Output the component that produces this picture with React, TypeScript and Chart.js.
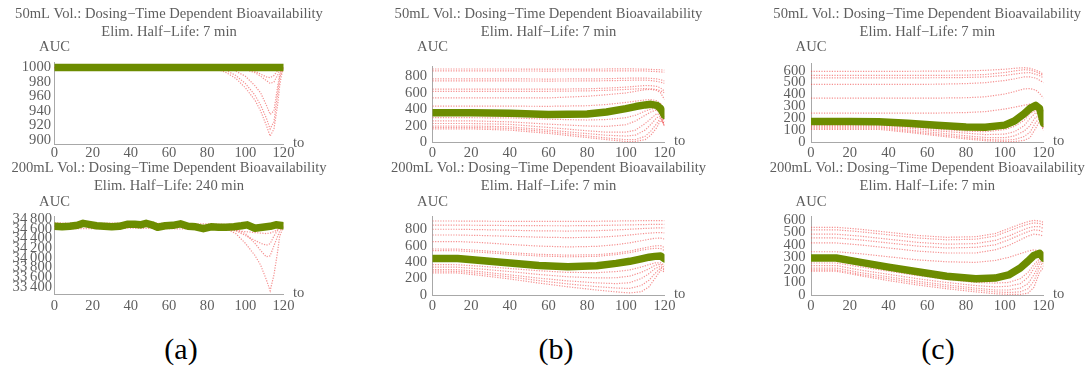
import React, { useEffect, useRef } from "react";
import { Chart, registerables } from "chart.js";

Chart.register(...registerables);

// ---------------- data ----------------
const xTickValues = [0, 20, 40, 60, 80, 100, 120];

const title50 = "50mL Vol.: Dosing\u2212Time Dependent Bioavailability";
const title200 = "200mL Vol.: Dosing\u2212Time Dependent Bioavailability";
const sub7 = "Elim. Half\u2212Life: 7 min";
const sub240 = "Elim. Half\u2212Life: 240 min";

// (a) top
const aTopX = [0, 20, 40, 60, 80, 85, 90, 95, 100, 105, 108, 111, 113, 115, 117, 118, 119, 120];
const aTopMean = [1000, 1000, 1000, 1000, 1000, 1000, 1000, 1000, 1000, 1000, 1000, 1000, 1000, 1000, 1000, 1000, 1000, 1000];
const aTopRed1 = [1000, 1000, 1000, 1000, 1000, 1000, 1000, 1000, 998, 995, 991, 987, 986, 989, 996, 1000, 1000, 1000];
const aTopRed2 = [1000, 1000, 1000, 1000, 1000, 998, 993, 985, 972, 955, 940, 920, 905, 915, 950, 975, 990, 1000];
const aTopRed3 = [1000, 1000, 1000, 1000, 1000, 1000, 996, 989, 978, 962, 948, 930, 915, 925, 965, 985, 995, 1000];
const aTopRed4 = [1000, 1000, 1000, 1000, 1000, 1000, 1000, 995, 988, 975, 965, 948, 935, 940, 975, 990, 998, 1000];
const aTopRed5 = [1000, 1000, 1000, 1000, 1000, 1000, 1000, 999, 997, 993, 988, 982, 978, 980, 990, 997, 1000, 1000];
const aTopTicks = [900, 920, 940, 960, 980, 1000];

// (a) bottom
const aBotMeanX = [0, 4, 8, 12, 15, 18, 22, 26, 30, 34, 38, 42, 45, 48, 51, 54, 58, 62, 66, 70, 74, 78, 82, 86, 90, 94, 98, 101, 105, 109, 113, 116, 120];
const aBotMean = [34650, 34640, 34650, 34670, 34710, 34690, 34660, 34650, 34640, 34650, 34690, 34690, 34680, 34710, 34680, 34630, 34660, 34670, 34700, 34650, 34640, 34600, 34640, 34630, 34630, 34640, 34660, 34680, 34610, 34630, 34650, 34680, 34660];
const aBotX = [0, 20, 40, 60, 80, 90, 95, 100, 105, 108, 111, 113, 115, 117, 118, 120];
const aBotRed1 = [34720, 34710, 34720, 34710, 34700, 34690, 34690, 34680, 34670, 34670, 34670, 34680, 34700, 34720, 34720, 34710];
const aBotRed2 = [34600, 34600, 34610, 34600, 34590, 34580, 34560, 34540, 34520, 34510, 34500, 34510, 34540, 34580, 34600, 34610];
const aBotRed3 = [34650, 34650, 34650, 34650, 34650, 34620, 34560, 34460, 34360, 34300, 34260, 34290, 34450, 34570, 34620, 34650];
const aBotRed4 = [34650, 34650, 34650, 34650, 34640, 34600, 34500, 34300, 34050, 33850, 33550, 33320, 33650, 34150, 34450, 34640];
const aBotRed5 = [34650, 34650, 34650, 34650, 34650, 34630, 34580, 34500, 34300, 34150, 34020, 34040, 34250, 34450, 34550, 34640];
const aBotTicks = [33400, 33600, 33800, 34000, 34200, 34400, 34600, 34800];

// (b) top
const bTopX = [0, 20, 40, 60, 80, 90, 100, 105, 110, 113, 116, 118, 120];
const bTopMean = [360, 360, 355, 340, 345, 370, 410, 435, 455, 462, 450, 410, 330];
const bTopReds = [
  [890, 890, 890, 888, 888, 890, 892, 890, 888, 885, 882, 880, 875],
  [868, 868, 866, 865, 866, 866, 868, 868, 866, 862, 858, 855, 850],
  [770, 770, 770, 768, 770, 772, 778, 780, 780, 776, 770, 760, 745],
  [745, 745, 745, 744, 745, 748, 752, 755, 755, 750, 740, 730, 715],
  [645, 645, 645, 645, 650, 658, 670, 680, 690, 688, 680, 660, 620],
  [620, 620, 620, 620, 625, 632, 642, 648, 652, 650, 640, 625, 600],
  [540, 540, 540, 540, 560, 578, 600, 620, 640, 642, 630, 600, 520],
  [440, 440, 440, 438, 445, 460, 485, 500, 515, 520, 505, 470, 400],
  [300, 300, 298, 282, 272, 278, 300, 330, 380, 405, 415, 380, 300],
  [262, 262, 250, 222, 200, 195, 215, 260, 330, 370, 395, 340, 250],
  [230, 230, 220, 182, 142, 125, 125, 150, 230, 290, 350, 330, 200],
  [200, 200, 190, 150, 108, 88, 78, 90, 150, 220, 300, 320, 200],
  [182, 182, 170, 130, 80, 55, 35, 35, 75, 140, 230, 300, 200],
  [165, 165, 150, 110, 60, 35, 12, 12, 35, 90, 180, 270, 220],
];
const bTicks = [0, 200, 400, 600, 800];

// (b) bottom
const bBotX = [0, 13, 25, 40, 55, 70, 85, 95, 102, 108, 112, 115, 118, 120];
const bBotMean = [445, 445, 420, 390, 360, 345, 355, 385, 410, 440, 460, 470, 475, 440];
const bBotReds = [
  [900, 900, 898, 896, 895, 895, 897, 900, 902, 904, 905, 906, 906, 905],
  [850, 850, 848, 845, 843, 842, 845, 850, 853, 856, 858, 860, 860, 858],
  [800, 800, 795, 788, 780, 778, 782, 792, 800, 808, 812, 815, 818, 815],
  [730, 730, 724, 714, 704, 698, 702, 716, 730, 745, 752, 758, 760, 755],
  [650, 650, 638, 615, 595, 585, 592, 612, 635, 660, 678, 690, 692, 680],
  [560, 558, 540, 515, 495, 485, 490, 510, 535, 565, 585, 598, 600, 575],
  [540, 538, 520, 495, 475, 465, 470, 492, 515, 545, 560, 568, 565, 540],
  [370, 368, 350, 322, 295, 275, 272, 285, 305, 340, 370, 390, 392, 360],
  [340, 338, 316, 285, 250, 222, 208, 210, 230, 275, 320, 360, 375, 330],
  [310, 308, 283, 245, 205, 172, 148, 138, 150, 200, 260, 320, 350, 310],
  [290, 288, 260, 220, 175, 135, 102, 85, 80, 115, 180, 260, 330, 300],
  [270, 268, 238, 195, 145, 100, 60, 38, 25, 40, 100, 200, 300, 280],
];

// (c) top
const cTopX = [0, 20, 35, 50, 65, 80, 90, 100, 105, 110, 113, 116, 118, 120];
const cTopMean = [175, 175, 174, 160, 145, 130, 128, 145, 180, 240, 285, 310, 285, 160];
const cTopReds = [
  [595, 595, 595, 595, 596, 598, 603, 612, 620, 625, 620, 605, 590, 570],
  [560, 560, 560, 560, 561, 563, 568, 585, 598, 608, 605, 592, 575, 560],
  [540, 540, 540, 540, 541, 543, 548, 560, 572, 582, 584, 570, 558, 540],
  [485, 485, 485, 485, 487, 492, 500, 518, 532, 548, 548, 538, 520, 500],
  [370, 370, 370, 370, 371, 374, 382, 405, 425, 448, 450, 438, 410, 370],
  [245, 245, 245, 245, 246, 250, 258, 280, 295, 312, 320, 310, 290, 260],
  [150, 150, 150, 130, 112, 95, 90, 108, 135, 185, 240, 270, 230, 150],
  [140, 140, 140, 120, 98, 78, 66, 70, 90, 140, 200, 250, 230, 130],
  [130, 130, 130, 106, 82, 56, 42, 40, 55, 95, 140, 215, 210, 120],
  [120, 120, 120, 95, 68, 42, 26, 20, 25, 50, 85, 170, 200, 120],
  [110, 110, 110, 85, 57, 30, 15, 8, 8, 18, 40, 120, 180, 100],
];
const cTicks = [0, 100, 200, 300, 400, 500, 600];

// (c) bottom
const cBotX = [0, 13, 25, 40, 55, 70, 85, 95, 102, 108, 112, 115, 118, 120];
const cBotMean = [295, 295, 262, 222, 185, 150, 130, 135, 160, 215, 270, 315, 332, 295];
const cBotReds = [
  [540, 540, 525, 500, 475, 460, 465, 490, 530, 565, 585, 595, 590, 580],
  [520, 520, 505, 480, 455, 440, 445, 470, 510, 545, 565, 575, 570, 560],
  [485, 485, 470, 445, 420, 405, 410, 435, 470, 510, 535, 545, 545, 530],
  [455, 455, 440, 415, 390, 375, 380, 400, 440, 480, 505, 520, 515, 500],
  [415, 415, 400, 375, 350, 335, 335, 360, 395, 440, 470, 485, 480, 470],
  [345, 345, 330, 305, 280, 265, 260, 275, 300, 330, 350, 360, 350, 340],
  [255, 255, 225, 190, 155, 125, 100, 95, 100, 130, 180, 240, 290, 260],
  [235, 235, 200, 165, 130, 100, 75, 65, 70, 90, 140, 210, 270, 250],
  [215, 215, 180, 145, 110, 80, 55, 40, 40, 55, 90, 160, 250, 240],
  [200, 200, 165, 130, 95, 65, 40, 25, 20, 25, 50, 110, 220, 230],
  [190, 190, 155, 115, 80, 50, 25, 10, 5, 5, 15, 60, 180, 220],
];

const panelLabels = ["(a)", "(b)", "(c)"];

// ---------------- styles / layout ----------------
const FONT = '"Liberation Serif", "Times New Roman", serif';
const TEXT = "#5e5e5e";
const AXIS = "#a8a8a8";
const GREEN = "rgb(108,140,0)";
const RED = "rgba(238,70,70,0.6)";
const FS = 14.6;

type Geom = {
  cl: number; ct: number; cw: number; ch: number;
  L: number; R: number; T: number; B: number;
  yMin: number; yMax: number;
  t1: number; t2: number; auc: number;
  xPad: number; yPad: number;
};

type PanelSpec = {
  title: string; sub: string;
  meanX: number[]; mean: number[];
  redX: number[]; reds: number[][];
  yTicks: number[]; grouped?: boolean;
  g: Geom;
};

const TOP = { ct: 0, ch: 165, t1: 14, t2: 32.3, auc: 46.7 };
const BOT = { ct: 155, ch: 165, t1: 168.3, t2: 186, auc: 201.7 };
const COLA = { cl: 0, cw: 345 };
const COLB = { cl: 370, cw: 355 };
const COLC = { cl: 740, cw: 351 };

const panels: PanelSpec[] = [
  {
    title: title50, sub: sub7, meanX: aTopX, mean: aTopMean, redX: aTopX,
    reds: [aTopRed1, aTopRed2, aTopRed3, aTopRed4, aTopRed5], yTicks: aTopTicks,
    g: { ...COLA, ...TOP, L: 54.5, R: 283.5, T: 62.5, B: 144.5, yMin: 893.4, yMax: 1007, xPad: 0, yPad: 3.5 },
  },
  {
    title: title200, sub: sub240, meanX: aBotMeanX, mean: aBotMean, redX: aBotX,
    reds: [aBotRed1, aBotRed2, aBotRed3, aBotRed4, aBotRed5], yTicks: aBotTicks, grouped: true,
    g: { ...COLA, ...BOT, L: 54.5, R: 283.5, T: 216, B: 294.5, yMin: 33243, yMax: 34862, xPad: 2.5, yPad: 2.5 },
  },
  {
    title: title50, sub: sub7, meanX: bTopX, mean: bTopMean, redX: bTopX, reds: bTopReds, yTicks: bTicks,
    g: { ...COLB, ...TOP, L: 432.5, R: 664.5, T: 66.5, B: 142.5, yMin: 0, yMax: 920, xPad: 1.5, yPad: 5.5 },
  },
  {
    title: title200, sub: sub7, meanX: bBotX, mean: bBotMean, redX: bBotX, reds: bBotReds, yTicks: bTicks,
    g: { ...COLB, ...BOT, L: 432.5, R: 664.5, T: 216.5, B: 295, yMin: 0, yMax: 955, xPad: 2.2, yPad: 5.5 },
  },
  {
    title: title50, sub: sub7, meanX: cTopX, mean: cTopMean, redX: cTopX, reds: cTopReds, yTicks: cTicks,
    g: { ...COLC, ...TOP, L: 811, R: 1043.5, T: 63.5, B: 142.5, yMin: 0, yMax: 660, xPad: 1.5, yPad: 5.5 },
  },
  {
    title: title200, sub: sub7, meanX: cBotX, mean: cBotMean, redX: cBotX, reds: cBotReds, yTicks: cTicks,
    g: { ...COLC, ...BOT, L: 811, R: 1043.5, T: 216.5, B: 295, yMin: 0, yMax: 626, xPad: 2.2, yPad: 5.5 },
  },
];

const labelPos = [
  { x: 181, y: 349 },
  { x: 556, y: 349 },
  { x: 938, y: 349 },
];

function fmtTick(v: number, grouped?: boolean) {
  const s = String(v);
  if (grouped && s.length > 3) return s.slice(0, s.length - 3) + "\u2009" + s.slice(s.length - 3);
  return s;
}

function PanelChart({ p }: { p: PanelSpec }) {
  const ref = useRef<HTMLCanvasElement | null>(null);
  const g = p.g;
  useEffect(() => {
    if (!ref.current) return;
    const textPlugin = {
      id: "panelText",
      afterDraw(chart: any) {
        const { ctx, chartArea } = chart;
        ctx.save();
        ctx.fillStyle = TEXT;
        ctx.font = `${FS}px ${FONT}`;
        ctx.textBaseline = "middle";
        ctx.textAlign = "center";
        const cx = (chartArea.left + chartArea.right) / 2;
        ctx.fillText(p.title, cx, g.t1 - g.ct);
        ctx.fillText(p.sub, cx, g.t2 - g.ct);
        ctx.fillText("AUC", chartArea.left, g.auc - g.ct);
        ctx.textAlign = "left";
        ctx.fillText("to", chartArea.right + 9.5, chartArea.bottom - 1);
        ctx.restore();
      },
    };
    const datasets: any[] = [
      {
        data: p.meanX.map((x, i) => ({ x, y: p.mean[i] })),
        borderColor: GREEN,
        borderWidth: 7.5,
        pointRadius: 0,
        borderCapStyle: "round",
        borderJoinStyle: "round",
        tension: 0,
      },
      ...p.reds.map((r) => ({
        data: p.redX.map((x, i) => ({ x, y: r[i] })),
        borderColor: RED,
        borderWidth: 1.2,
        borderDash: [1.2, 1.4],
        pointRadius: 0,
        tension: 0,
      })),
    ];
    const tickFont = { family: FONT, size: FS, lineHeight: 1.2 };
    const chart = new Chart(ref.current, {
      type: "line",
      data: { datasets },
      options: {
        animation: false,
        responsive: false,
        devicePixelRatio: 1,
        layout: {
          padding: { left: 0, right: g.cl + g.cw - g.R, top: g.T - g.ct, bottom: 0 },
        },
        plugins: {
          legend: { display: false },
          tooltip: { enabled: false },
          title: { display: false },
        },
        scales: {
          x: {
            type: "linear",
            min: 0,
            max: 120,
            afterFit: (s: any) => {
              s.height = g.ct + g.ch - g.B;
            },
            afterBuildTicks: (s: any) => {
              s.ticks = xTickValues.map((v) => ({ value: v }));
            },
            grid: { display: false, drawTicks: false },
            border: { display: true, color: AXIS, width: 1 },
            ticks: {
              autoSkip: false,
              maxRotation: 0,
              padding: g.xPad,
              color: TEXT,
              font: tickFont,
            },
          },
          y: {
            type: "linear",
            min: g.yMin,
            max: g.yMax,
            afterFit: (s: any) => {
              s.width = g.L - g.cl;
            },
            afterBuildTicks: (s: any) => {
              s.ticks = p.yTicks.map((v) => ({ value: v }));
            },
            grid: { display: false, drawTicks: false },
            border: { display: true, color: AXIS, width: 1 },
            ticks: {
              autoSkip: false,
              padding: g.yPad,
              color: TEXT,
              font: tickFont,
              callback: (v: any) => fmtTick(Number(v), p.grouped),
            },
          },
        },
      } as any,
      plugins: [textPlugin],
    });
    return () => chart.destroy();
  }, [p]);
  return (
    <canvas
      ref={ref}
      width={g.cw}
      height={g.ch}
      style={{ position: "absolute", left: g.cl, top: g.ct, width: g.cw, height: g.ch }}
    />
  );
}

export default function App() {
  return (
    <div
      style={{
        position: "absolute",
        left: 0,
        top: 0,
        width: 1091,
        height: 369,
        background: "#ffffff",
        overflow: "hidden",
      }}
    >
      {panels.map((p, i) => (
        <PanelChart key={i} p={p} />
      ))}
      {panelLabels.map((t, i) => (
        <div
          key={t}
          style={{
            position: "absolute",
            left: labelPos[i].x,
            top: labelPos[i].y,
            transform: "translate(-50%, -50%)",
            fontFamily: FONT,
            fontSize: 30,
            color: "#000",
            lineHeight: 1,
            whiteSpace: "nowrap",
          }}
        >
          {t}
        </div>
      ))}
    </div>
  );
}
